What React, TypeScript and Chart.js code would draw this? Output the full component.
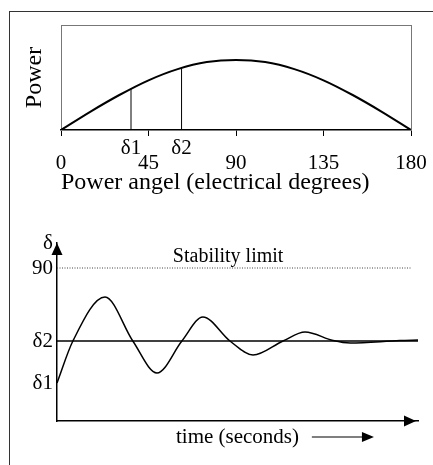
import React, { useEffect, useRef } from 'react';
import { Chart, registerables } from 'chart.js';

Chart.register(...registerables);

const SERIF = "'Liberation Serif', 'Times New Roman', serif";

// ---- Top panel: power–angle curve ----
const powerAngles = [0, 15, 30, 45, 60, 75, 90, 105, 120, 135, 150, 165, 180];
const powerValues = [0, 0.26, 0.5, 0.71, 0.87, 0.97, 1, 0.97, 0.87, 0.71, 0.5, 0.26, 0];
const angleTicks = [0, 45, 90, 135, 180];
const delta1Angle = 36;
const delta1Power = 0.59;
const delta2Angle = 62;
const delta2Power = 0.88;
const deltaNames = ['δ1', 'δ2'];
const topXTitle = 'Power angel (electrical degrees)';
const topYTitle = 'Power';

// ---- Bottom panel: rotor swing curve ----
const swingTimes = [0, 0.44, 1.33, 2.1, 2.77, 3.46, 4.04, 4.79, 5.43, 6.26, 6.87, 7.65, 8.12, 9.5, 10];
const swingValues = [38, 80, 124, 80, 48, 80, 104, 80, 66, 80, 89, 80.5, 78, 80.5, 81];
const delta1Level = 38;
const delta2Level = 80;
const limitLevel = 153;
const limitEndTime = 9.8;
const swingAxisTop = 178;
const swingTimeMax = 10;
const levelTickLabels = ['δ1', 'δ2', '90', 'δ'];
const limitText = 'Stability limit';
const limitTextTime = 4.74;
const bottomXTitle = 'time (seconds)';

function PowerAngleChart() {
  const ref = useRef<HTMLCanvasElement>(null);
  useEffect(() => {
    const canvas = ref.current!;
    const deltaAngles = [delta1Angle, delta2Angle];
    const chart = new Chart(canvas, {
      type: 'line',
      data: {
        datasets: [
          {
            data: powerAngles.map((a, i) => ({ x: a, y: powerValues[i] })),
            borderColor: '#000',
            borderWidth: 2,
            pointRadius: 0,
            cubicInterpolationMode: 'monotone',
          },
          {
            data: [{ x: delta1Angle, y: 0 }, { x: delta1Angle, y: delta1Power }],
            borderColor: '#000',
            borderWidth: 1,
            pointRadius: 0,
          },
          {
            data: [{ x: delta2Angle, y: 0 }, { x: delta2Angle, y: delta2Power }],
            borderColor: '#000',
            borderWidth: 1,
            pointRadius: 0,
          },
        ],
      },
      options: {
        responsive: false,
        animation: false,
        devicePixelRatio: 1,
        layout: { padding: { top: 25, right: 22, left: 0, bottom: 0 } },
        plugins: { legend: { display: false }, tooltip: { enabled: false } },
        scales: {
          x: {
            type: 'linear',
            position: 'bottom',
            min: 0,
            max: 180,
            afterBuildTicks: (s: any) => {
              s.ticks = [...angleTicks, ...deltaAngles]
                .sort((a, b) => a - b)
                .map((v) => ({ value: v }));
            },
            afterFit: (s: any) => {
              s.height = 70;
            },
            ticks: {
              autoSkip: false,
              maxRotation: 0,
              padding: 4.5,
              color: '#000',
              font: { family: SERIF, size: 21, lineHeight: '15px' } as any,
              callback: (value: any) => {
                const di = deltaAngles.indexOf(value);
                if (di >= 0) return [deltaNames[di], ''];
                return ['', String(value)];
              },
            },
            grid: {
              display: true,
              drawOnChartArea: false,
              drawTicks: true,
              tickLength: 6,
              tickWidth: 1,
              tickColor: (ctx: any) =>
                ctx.tick && deltaAngles.includes(ctx.tick.value) ? 'rgba(0,0,0,0)' : '#000',
            },
            border: { display: true, color: '#000', width: 1.5 },
            title: {
              display: true,
              text: topXTitle,
              align: 'start',
              color: '#000',
              font: { family: SERIF, size: 24 },
              padding: { top: 0, bottom: 2.6 },
            },
          },
          y: {
            type: 'linear',
            position: 'left',
            min: 0,
            max: 1.5,
            afterFit: (s: any) => {
              s.width = 61;
            },
            ticks: { display: false },
            grid: { display: false, drawTicks: false },
            border: { display: true, color: '#777', width: 1 },
            title: {
              display: true,
              text: topYTitle,
              color: '#000',
              font: { family: SERIF, size: 24 },
              padding: { top: 20.6, bottom: 0 },
            },
          },
          x2: {
            type: 'linear',
            position: 'top',
            min: 0,
            max: 180,
            afterFit: (s: any) => {
              s.height = 0;
            },
            ticks: { display: false },
            grid: { display: false, drawTicks: false },
            border: { display: true, color: '#777', width: 1 },
          },
          y2: {
            type: 'linear',
            position: 'right',
            min: 0,
            max: 1.5,
            afterFit: (s: any) => {
              s.width = 0;
            },
            ticks: { display: false },
            grid: { display: false, drawTicks: false },
            border: { display: true, color: '#777', width: 1 },
          },
        },
      } as any,
    });
    return () => chart.destroy();
  }, []);
  return (
    <canvas
      ref={ref}
      width={433}
      height={200}
      style={{ position: 'absolute', left: 0, top: 0, width: 433, height: 200 }}
    />
  );
}

const swingDecor = {
  id: 'swingDecor',
  afterDraw(chart: any) {
    const { ctx, scales } = chart;
    const x = scales.x;
    const y = scales.y;
    ctx.save();
    ctx.fillStyle = '#000';
    ctx.strokeStyle = '#000';
    // y-axis arrow head
    const ax = x.left;
    const ay = y.top;
    ctx.beginPath();
    ctx.moveTo(ax, ay);
    ctx.lineTo(ax - 5.5, ay + 12);
    ctx.lineTo(ax + 5.5, ay + 12);
    ctx.closePath();
    ctx.fill();
    // x-axis arrow head
    const bx = x.right - 2;
    const by = y.bottom;
    ctx.beginPath();
    ctx.moveTo(bx, by);
    ctx.lineTo(bx - 12, by - 5.5);
    ctx.lineTo(bx - 12, by + 5.5);
    ctx.closePath();
    ctx.fill();
    // stability limit label
    ctx.font = `20px ${SERIF}`;
    ctx.textAlign = 'center';
    ctx.textBaseline = 'middle';
    ctx.fillText(limitText, x.getPixelForValue(limitTextTime), y.getPixelForValue(limitLevel) - 11);
    // time arrow next to axis title
    const ty = x.bottom - 28;
    const tx0 = x.getPixelForValue(7.06);
    const tx1 = x.getPixelForValue(8.78);
    ctx.lineWidth = 1.2;
    ctx.beginPath();
    ctx.moveTo(tx0, ty);
    ctx.lineTo(tx1 - 10, ty);
    ctx.stroke();
    ctx.beginPath();
    ctx.moveTo(tx1, ty);
    ctx.lineTo(tx1 - 12, ty - 5);
    ctx.lineTo(tx1 - 12, ty + 5);
    ctx.closePath();
    ctx.fill();
    ctx.restore();
  },
};

function SwingChart() {
  const ref = useRef<HTMLCanvasElement>(null);
  useEffect(() => {
    const canvas = ref.current!;
    const levels = [delta1Level, delta2Level, limitLevel, swingAxisTop];
    const chart = new Chart(canvas, {
      type: 'line',
      data: {
        datasets: [
          {
            data: [{ x: 0, y: limitLevel }, { x: limitEndTime, y: limitLevel }],
            borderColor: '#444',
            borderWidth: 1,
            borderDash: [1, 1.5],
            pointRadius: 0,
          },
          {
            data: [{ x: 0, y: delta2Level }, { x: swingTimeMax, y: delta2Level }],
            borderColor: '#000',
            borderWidth: 1.3,
            pointRadius: 0,
          },
          {
            data: swingTimes.map((t, i) => ({ x: t, y: swingValues[i] })),
            borderColor: '#000',
            borderWidth: 1.5,
            pointRadius: 0,
            cubicInterpolationMode: 'monotone',
          },
        ],
      },
      options: {
        responsive: false,
        animation: false,
        devicePixelRatio: 1,
        layout: { padding: { top: 43, right: 15, left: 0, bottom: 0 } },
        plugins: { legend: { display: false }, tooltip: { enabled: false } },
        scales: {
          x: {
            type: 'linear',
            min: 0,
            max: swingTimeMax,
            afterFit: (s: any) => {
              s.height = 44;
            },
            ticks: { display: false },
            grid: { display: false, drawTicks: false },
            border: { display: true, color: '#000', width: 1.5 },
            title: {
              display: true,
              text: bottomXTitle,
              color: '#000',
              font: { family: SERIF, size: 21 },
              padding: { top: 0, bottom: 15.4 },
            },
          },
          y: {
            type: 'linear',
            min: 0,
            max: swingAxisTop,
            afterBuildTicks: (s: any) => {
              s.ticks = levels.map((v) => ({ value: v }));
            },
            afterFit: (s: any) => {
              s.width = 57;
            },
            ticks: {
              autoSkip: false,
              padding: 4,
              color: '#000',
              font: { family: SERIF, size: 21 },
              callback: (_v: any, i: number) => levelTickLabels[i],
            },
            grid: { display: false, drawTicks: false },
            border: { display: true, color: '#000', width: 1.5 },
          },
        },
      } as any,
      plugins: [swingDecor as any],
    });
    return () => chart.destroy();
  }, []);
  return (
    <canvas
      ref={ref}
      width={433}
      height={265}
      style={{ position: 'absolute', left: 0, top: 200, width: 433, height: 265 }}
    />
  );
}

export default function App() {
  return (
    <div
      style={{
        position: 'absolute',
        left: 0,
        top: 0,
        width: 433,
        height: 465,
        background: '#fff',
        overflow: 'hidden',
      }}
    >
      <div
        style={{
          position: 'absolute',
          left: 9,
          top: 11,
          width: 440,
          height: 470,
          borderTop: '1px solid #333',
          borderLeft: '1px solid #333',
        }}
      />
      <PowerAngleChart />
      <SwingChart />
    </div>
  );
}
